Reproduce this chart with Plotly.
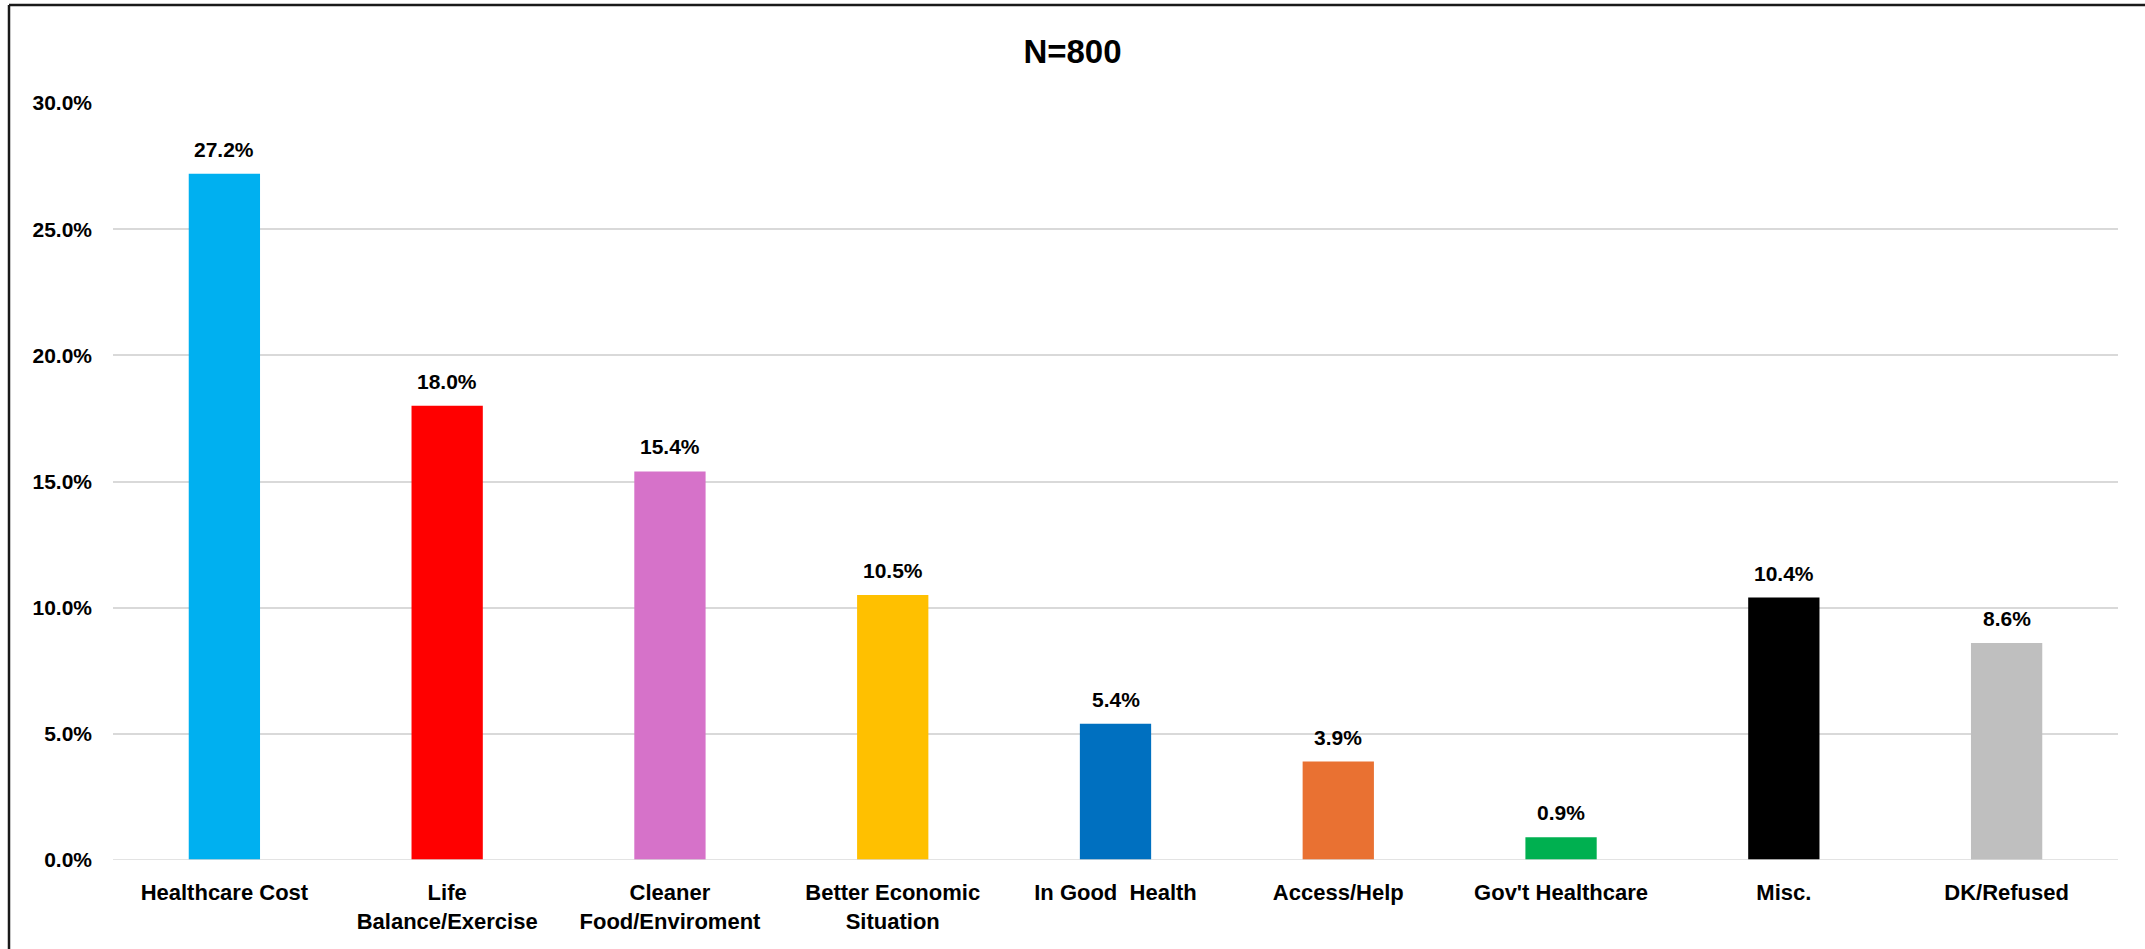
import plotly.graph_objects as go

categories = ["Healthcare Cost", "Life<br>Balance/Exercise", "Cleaner<br>Food/Enviroment",
              "Better Economic<br>Situation", "In Good  Health", "Access/Help",
              "Gov't Healthcare", "Misc.", "DK/Refused"]
values = [27.2, 18.0, 15.4, 10.5, 5.4, 3.9, 0.9, 10.4, 8.6]
colors = ["#00B0F0", "#FF0000", "#D672C9", "#FFC000", "#0070C0",
          "#E97132", "#00B050", "#000000", "#BFBFBF"]
y_ticks = [0, 5, 10, 15, 20, 25, 30]
y_tick_labels = ["0.0%", "5.0%", "10.0%", "15.0%", "20.0%", "25.0%", "30.0%"]

W, H = 2145, 949
L, R, T, B = 113, 27, 103, 89
FONT = "Liberation Sans, Arial, sans-serif"

fig = go.Figure()
fig.add_trace(go.Bar(
    x=categories, y=values, marker=dict(color=colors, line=dict(width=0)),
    width=0.32, showlegend=False, hoverinfo="skip"))

for c, v in zip(categories, values):
    fig.add_annotation(x=c, y=v, text=f"<b>{v:.1f}%</b>", showarrow=False,
                       yanchor="bottom", yshift=11,
                       font=dict(family=FONT, size=21, color="#000000"))

# zero line above bars
fig.add_shape(type="line", xref="paper", yref="y", x0=0, x1=1, y0=0, y1=0,
              line=dict(color="rgba(217,217,217,0.75)", width=2), layer="above")

# outer frame (top and left only visible)
pw, ph = W - L - R, H - T - B
def px(x): return (x - L) / pw
def py(y): return 1 - (y - T) / ph
fig.add_shape(type="line", xref="paper", yref="paper", x0=px(9), x1=px(W + 20),
              y0=py(5), y1=py(5), line=dict(color="#1a1a1a", width=2.5))
fig.add_shape(type="line", xref="paper", yref="paper", x0=px(9), x1=px(9),
              y0=py(5), y1=py(H + 20), line=dict(color="#1a1a1a", width=2.5))

fig.update_layout(
    width=W, height=H,
    margin=dict(l=L, r=R, t=T, b=B, autoexpand=False),
    paper_bgcolor="white", plot_bgcolor="white",
    title=dict(text="<b>N=800</b>", x=0.5, xref="container", xanchor="center",
               y=1 - 51 / H, yref="container", yanchor="middle",
               font=dict(family=FONT, size=33, color="#000000")),
    bargap=0.68,
    xaxis=dict(showgrid=False, showline=False, zeroline=False, ticks="",
               tickfont=dict(family=FONT, size=22, color="#000000"),
               ticklabelstandoff=17),
    yaxis=dict(range=[0, 30], tickvals=y_ticks, ticktext=[f"<b>{t}</b>" for t in y_tick_labels],
               showgrid=True, gridcolor="#D9D9D9", gridwidth=2,
               zeroline=False, showline=False, ticks="",
               tickfont=dict(family=FONT, size=21, color="#000000"),
               ticklabelstandoff=20),
)
fig.update_xaxes(ticktext=[f"<b>{c}</b>" for c in categories], tickvals=categories)

fig.write_html("out.html", config={"displayModeBar": False},
               post_script="document.body.style.margin='0';document.body.style.overflow='hidden';")
